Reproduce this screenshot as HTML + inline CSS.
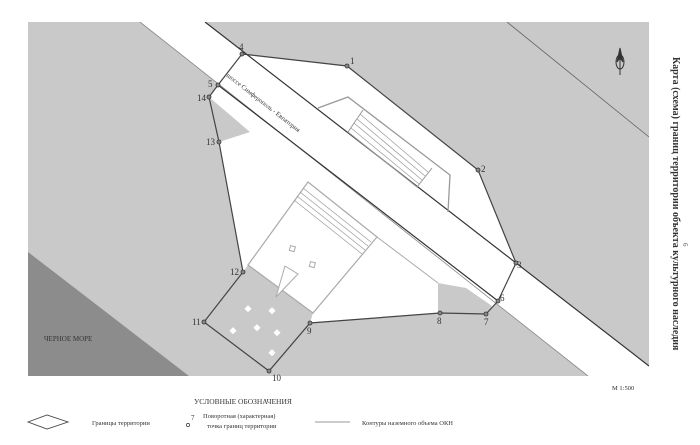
<!DOCTYPE html>
<html><head><meta charset="utf-8"><style>
html,body{margin:0;padding:0;background:#fff;width:700px;height:445px;overflow:hidden;}
svg{display:block;}
text{font-family:"Liberation Serif",serif;}
</style></head><body>
<svg width="700" height="445" viewBox="0 0 700 445" xmlns="http://www.w3.org/2000/svg">
<defs><clipPath id="m"><rect x="28" y="22" width="621" height="354"/></clipPath></defs>
<rect width="700" height="445" fill="#fff"/>
<g clip-path="url(#m)">
<rect x="28" y="22" width="621" height="354" fill="#c9c9c9"/>
<polygon points="28,252 28,376 189,376" fill="#8c8c8c"/>
<line x1="507" y1="22" x2="649" y2="137" stroke="#666" stroke-width="0.8"/>
<polygon points="140,22 205,22 649,366 649,376 588,376" fill="#fff"/>
<polygon points="242,54 347,66 478,170 516,263 498,301 486,314 440,313 310,323 269,371 204,322 243,272 219,142 209,97 218,85" fill="#fff"/>
<polygon points="209,97 219,142 250,132" fill="#c9c9c9"/>
<polygon points="243,272 204,322 269,371 310,323 313,313 248,265" fill="#c9c9c9"/>
<polygon points="438,283 438,313 486,314 492,306 466,288" fill="#c9c9c9"/>
<line x1="205" y1="22" x2="649" y2="366" stroke="#333" stroke-width="1.2"/>
<line x1="140" y1="22" x2="588" y2="376" stroke="#888" stroke-width="0.8"/>
<line x1="218" y1="85" x2="498" y2="301" stroke="#333" stroke-width="1.2"/>
<polyline points="318,108 348,97 450,175 448,212" fill="none" stroke="#999" stroke-width="1.3"/>
<polyline points="363,110 348,132 417,187 432,168" fill="none" stroke="#999" stroke-width="1"/>
<g stroke="#999" stroke-width="0.7">
<line x1="360" y1="114" x2="428" y2="172"/><line x1="357" y1="119" x2="425" y2="176"/>
<line x1="354" y1="123" x2="422" y2="180"/><line x1="351" y1="128" x2="419" y2="184"/>
</g>
<polygon points="308,182 377,237 313,313 248,265" fill="#fff" stroke="#aaa" stroke-width="1.2"/>
<polyline points="377,237 438,283" fill="none" stroke="#aaa" stroke-width="1"/>
<g stroke="#999" stroke-width="0.7">
<line x1="303" y1="188" x2="371" y2="242"/><line x1="300" y1="192" x2="368" y2="246"/>
<line x1="297" y1="196" x2="365" y2="250"/><line x1="294" y1="200" x2="362" y2="254"/>
</g>
<polygon points="285,266 298,274 276,297" fill="#fff" stroke="#aaa" stroke-width="1"/>
<rect x="290" y="246" width="5" height="5" fill="#fff" stroke="#aaa" transform="rotate(15 292 248)"/>
<rect x="310" y="262" width="5" height="5" fill="#fff" stroke="#aaa" transform="rotate(15 312 264)"/>
<g fill="#fff">
<rect x="246" y="306" width="5" height="5" transform="rotate(45 248 308)"/>
<rect x="270" y="308" width="5" height="5" transform="rotate(45 272 310)"/>
<rect x="231" y="328" width="5" height="5" transform="rotate(45 233 330)"/>
<rect x="255" y="325" width="5" height="5" transform="rotate(45 257 327)"/>
<rect x="275" y="330" width="5" height="5" transform="rotate(45 277 332)"/>
<rect x="270" y="350" width="5" height="5" transform="rotate(45 272 352)"/>
</g>
<polygon points="242,54 347,66 478,170 516,263 498,301 486,314 440,313 310,323 269,371 204,322 243,272 219,142 209,97 218,85" fill="none" stroke="#444" stroke-width="1.2"/>
<g fill="#888" stroke="#333" stroke-width="0.8">
<circle cx="242" cy="54" r="2"/><circle cx="347" cy="66" r="2"/><circle cx="478" cy="170" r="2"/>
<circle cx="516" cy="263" r="2"/><circle cx="498" cy="301" r="2"/><circle cx="486" cy="314" r="2"/>
<circle cx="440" cy="313" r="2"/><circle cx="310" cy="323" r="2"/><circle cx="269" cy="371" r="2"/>
<circle cx="204" cy="322" r="2"/><circle cx="243" cy="272" r="2"/><circle cx="219" cy="142" r="2"/>
<circle cx="209" cy="97" r="2"/><circle cx="218" cy="85" r="2"/>
</g>
<text x="0" y="0" font-size="6.5" fill="#333" transform="translate(226,76) rotate(38)">шоссе Симферополь - Евпатория</text>
<text x="44" y="341" font-size="7" fill="#333">ЧЕРНОЕ МОРЕ</text>
<g stroke="#333" fill="none" stroke-width="1">
<ellipse cx="620" cy="62" rx="4" ry="7"/><line x1="620" y1="48" x2="620" y2="75"/>
<polygon points="620,48 617,62 620,58 623,62" fill="#333"/>
</g>
</g>
<g font-family="Liberation Sans, sans-serif" font-size="9" fill="#333">
<text x="239" y="50">4</text><text x="350" y="64">1</text><text x="481" y="172">2</text>
<text x="517" y="268">3</text><text x="500" y="301">6</text><text x="484" y="325">7</text>
<text x="437" y="324">8</text><text x="307" y="334">9</text><text x="272" y="381">10</text>
<text x="192" y="325">11</text><text x="230" y="275">12</text><text x="206" y="145">13</text>
<text x="197" y="101">14</text><text x="208" y="87">5</text>
</g>
<text x="612" y="390" font-family="Liberation Sans, sans-serif" font-size="6.5" fill="#333">M 1:500</text>
<text x="0" y="0" font-size="10" font-weight="bold" fill="#333" transform="translate(673,57) rotate(90)">Карта (схема) границ территории объекта культурного наследия</text>
<text x="0" y="0" font-size="7" fill="#555" transform="translate(683,243) rotate(90)">6</text>
<text x="194" y="404" font-size="7.5" fill="#333">УСЛОВНЫЕ ОБОЗНАЧЕНИЯ</text>
<polygon points="28,422 47,415 68,422 47,429" fill="none" stroke="#444" stroke-width="0.9"/>
<text x="92" y="425" font-size="6.5" fill="#333">Границы территории</text>
<circle cx="188" cy="425" r="1.6" fill="none" stroke="#333" stroke-width="0.7"/>
<text x="191" y="420" font-size="7" fill="#333">7</text>
<text x="203" y="418" font-size="6.5" fill="#333">Поворотная (характерная)</text>
<text x="207" y="428" font-size="6.5" fill="#333">точка границ территории</text>
<line x1="315" y1="422" x2="350" y2="422" stroke="#777" stroke-width="0.8"/>
<text x="362" y="425" font-size="6.5" fill="#333">Контуры наземного объема ОКН</text>
</svg>
</body></html>
